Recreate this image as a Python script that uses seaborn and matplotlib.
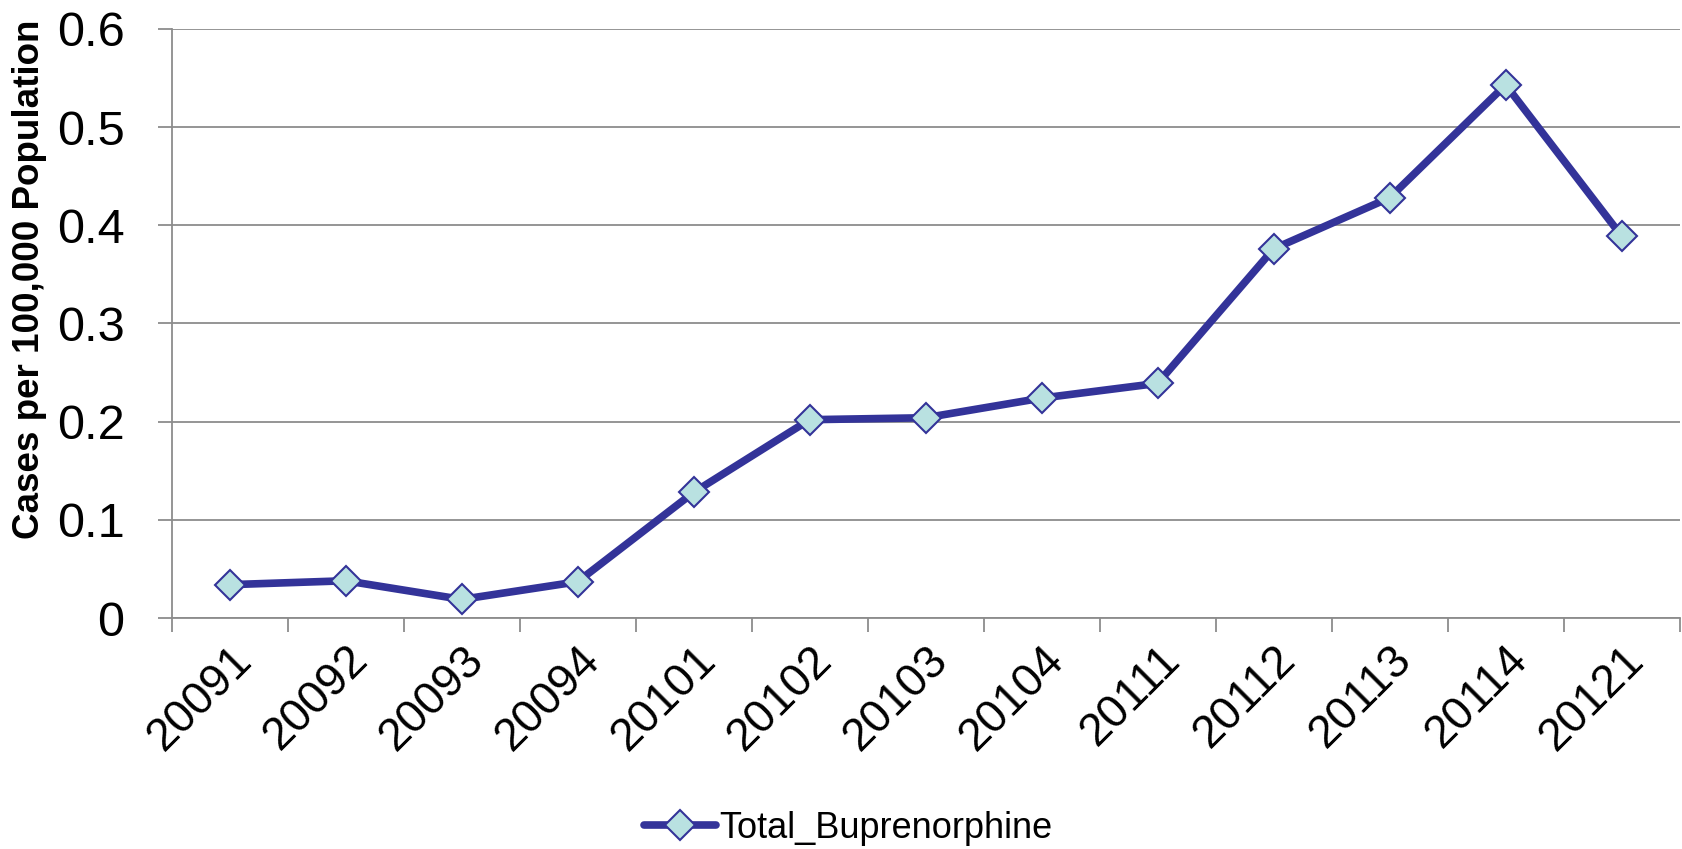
import numpy as np
import pandas as pd
import matplotlib.pyplot as plt
import matplotlib.transforms as mtransforms
import seaborn as sns

# data
quarters = ['20091', '20092', '20093', '20094', '20101', '20102', '20103',
            '20104', '20111', '20112', '20113', '20114', '20121']
rates = [0.034, 0.038, 0.019, 0.037, 0.128, 0.202, 0.204,
         0.224, 0.239, 0.376, 0.428, 0.543, 0.389]
series_name = 'Total_Buprenorphine'

df = pd.DataFrame({'quarter': quarters, 'rate': rates})

sns.set_style('white')
plt.rcParams['font.family'] = ['Liberation Sans', 'DejaVu Sans']
plt.rcParams['text.color'] = 'black'
plt.rcParams['axes.labelcolor'] = 'black'
plt.rcParams['xtick.labelcolor'] = 'black'
plt.rcParams['ytick.labelcolor'] = 'black'

fig = plt.figure(figsize=(16.83, 8.49), dpi=100)
ax = fig.add_axes([0.102, 0.272, 0.896, 0.694])

line_col = '#333399'
sns.lineplot(x='quarter', y='rate', data=df, sort=False, ax=ax,
             color=line_col, linewidth=5.5, marker='D', markersize=15,
             markerfacecolor='#B9E1E1', markeredgecolor=line_col,
             markeredgewidth=1.5, label=series_name)

n = len(quarters)
ax.set_xlim(-0.5, n - 0.5)
ax.set_ylim(0, 0.6)
ax.set_yticks(np.arange(0, 0.61, 0.1))
ax.set_yticklabels(['0', '0.1', '0.2', '0.3', '0.4', '0.5', '0.6'], fontsize=35)
ax.yaxis.grid(True, color='#8c8c8c', linewidth=1.3)
ax.set_axisbelow(True)

# labels at points, tick marks at category boundaries
ax.set_xticks(range(n))
ax.set_xticklabels(quarters, rotation=45, ha='right', rotation_mode='anchor',
                   fontsize=33)
shift = mtransforms.ScaledTranslation(0.3, 0, fig.dpi_scale_trans)
for lab in ax.get_xticklabels():
    lab.set_transform(lab.get_transform() + shift)
ax.set_xticks(np.arange(-0.5, n, 1), minor=True)
ax.tick_params(axis='x', which='major', length=0, pad=14)
ax.tick_params(axis='x', which='minor', length=10, width=1.3, color='#8c8c8c',
               direction='out', bottom=True)
ax.tick_params(axis='y', length=10, width=1.3, color='#8c8c8c', direction='out',
               left=True, pad=24)

for side in ['top', 'right']:
    ax.spines[side].set_visible(False)
for side in ['left', 'bottom']:
    ax.spines[side].set_color('#8c8c8c')
    ax.spines[side].set_linewidth(1.3)

ax.set_xlabel('')
ax.set_ylabel('Cases per 100,000 Population', fontsize=26.5, fontweight='bold')
ax.yaxis.set_label_coords(-0.083, 0.575)

ax.legend_.remove()
fig.legend(*ax.get_legend_handles_labels(), loc='center',
           bbox_to_anchor=(0.504, 0.024), frameon=False, fontsize=26,
           handlelength=2.0, handletextpad=0.1, borderaxespad=0)

fig.savefig('out.png', dpi=100)
